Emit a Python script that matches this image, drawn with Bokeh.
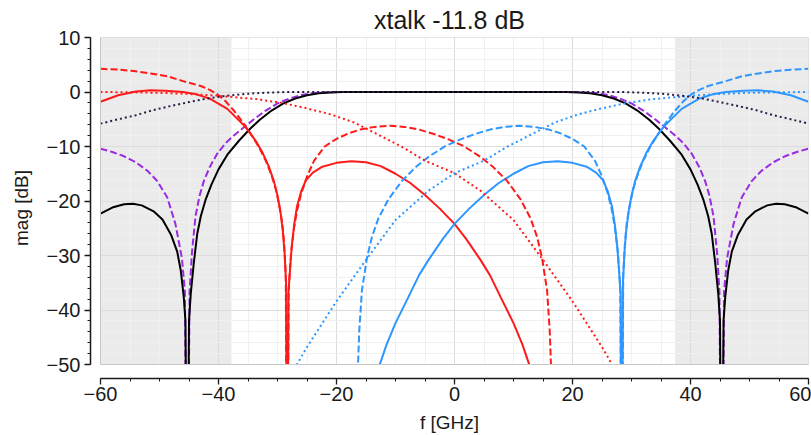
from bokeh.plotting import figure
from bokeh.models import Range1d, FixedTicker
from bokeh.embed import file_html
from bokeh.resources import INLINE

# ---------------- data ----------------
# black solid
BK_F = [-60, -58, -56, -54.5, -53, -51, -49.5, -48, -47, -46.4, -45.9, -45.6, -45.3, -45.0, -44.7,
        -44.2, -43.6, -43.0, -42.2, -41.2, -40.0, -38.5, -36.5, -34.6, -33.0, -31.0, -29.0, -27.0,
        -25.0, -23.0, -21.0, -19.0, -17.0,
        17.0, 19.0, 21.0, 23.0, 25.0, 27.0, 29.0, 31.0, 33.0, 34.6, 36.5, 38.5, 40.0, 41.2, 42.2,
        43.0, 43.6, 44.2, 44.7, 45.0, 45.3, 45.6, 45.9, 46.4, 47, 48, 49.5, 51, 53, 54.5, 56, 58, 60]
BK_DB = [-22.3, -21.2, -20.6, -20.5, -20.8, -21.9, -23.4, -26.3, -29.3, -32.7, -37.5, -42, -90, -42,
         -37, -31.5, -26, -22.8, -19.8, -17.0, -14.2, -11.5, -8.9, -6.7, -5.1, -3.4, -2.1, -1.2,
         -0.6, -0.25, -0.08, 0, 0,
         0, 0, -0.08, -0.25, -0.6, -1.2, -2.1, -3.4, -5.1, -6.7, -8.9, -11.5, -14.2, -17.0, -19.8,
         -22.8, -26, -31.5, -37, -42, -90, -42, -37.5, -32.7, -29.3, -26.3, -23.4, -21.9, -20.8,
         -20.5, -20.6, -21.2, -22.3]

# purple dashed
PU_F = [-60, -58, -56, -54, -52, -50.4, -48.7, -47.3, -46.2, -45.7, -45.3, -44.9, -44.5, -43.9,
        -43.2, -42.5, -41.5, -40.2, -38.8, -37.4, -35.5, -34, -32, -30, -28, -26, -24, -22, -20,
        20, 22, 24, 26, 28, 30, 32, 34, 35.5, 37.4, 38.8, 40.2, 41.5, 42.5, 43.2, 43.9, 44.5, 44.9,
        45.3, 45.7, 46.2, 47.3, 48.7, 50.4, 52, 54, 56, 58, 60]
PU_DB = [-10.4, -11.0, -11.8, -12.9, -14.5, -16.3, -19.3, -24.2, -30.5, -36.5, -90, -36.5, -29.5,
         -22.8, -19.0, -16.4, -13.8, -11.3, -9.4, -8.0, -6.3, -5.0, -3.4, -2.1, -1.2, -0.55, -0.2,
         -0.05, 0,
         0, -0.05, -0.2, -0.55, -1.2, -2.1, -3.4, -5.0, -6.3, -8.0, -9.4, -11.3, -13.8, -16.4,
         -19.0, -22.8, -29.5, -36.5, -90, -36.5, -30.5, -24.2, -19.3, -16.3, -14.5, -12.9, -11.8,
         -11.0, -10.4]

# dark purple dotted
DD_F = [-60, -57, -54, -51, -48, -45, -42, -39, -36, -33, -30, -28,
        28, 30, 33, 36, 39, 42, 45, 48, 51, 54, 57, 60]
DD_DB = [-5.8, -5.0, -4.25, -3.3, -2.55, -1.85, -1.2, -0.75, -0.4, -0.18, -0.05, 0,
         0, -0.05, -0.18, -0.4, -0.75, -1.2, -1.85, -2.55, -3.3, -4.25, -5.0, -5.8]

# red solid
RS_F = [-60, -57, -54, -51.5, -49, -46, -44, -41.4, -38.5, -35.7, -34.6, -33.5, -32.5, -31.5,
        -30.6, -30, -29.5, -29.1, -28.8, -28.55, -28.35, -28.15, -27.9, -27.6, -27.2, -26.7, -26.0,
        -25.2, -24.0, -22.4, -20, -17.5, -15, -12.5, -10, -7.5, -5, -2.5, 0, 2, 4.4, 6, 7.8, 10,
        11.5, 12.6, 13.6]
RS_DB = [-1.8, -0.6, 0.1, 0.3, 0.25, 0.0, -0.35, -1.25, -3.1, -6.1, -7.6, -9.3, -11.2, -13.6,
         -16.4, -19.0, -22.0, -25.5, -29.5, -35.0, -90, -37.0, -33.0, -28.5, -24.5, -21.0, -18.3,
         -16.2, -14.8, -13.7, -13.0, -12.7, -12.9, -13.6, -15.0, -16.7, -18.9, -21.4, -24.2, -27.0,
         -30.8, -33.6, -37.6, -42.4, -46.3, -49.8, -53.0]

# blue solid
BS_F = [-13.6, -12.6, -11.5, -10, -7.8, -6, -4.4, -2, 0, 2.5, 5, 7.5, 10, 12.5, 15, 17.5, 20,
        22.4, 24, 25.2, 26, 26.7, 27.2, 27.6, 27.9, 28.15, 28.35, 28.55, 28.8, 29.1, 29.5, 30,
        30.6, 31.5, 32.5, 33.5, 34.6, 35.7, 38.5, 41.4, 44, 46, 49, 51.5, 54, 57, 60]
BS_DB = [-53, -49.8, -46.3, -42.4, -37.6, -33.6, -30.8, -27, -24.2, -21.4, -18.9, -16.7, -15,
         -13.6, -12.9, -12.7, -13, -13.7, -14.8, -16.2, -18.3, -21, -24.5, -28.5, -33, -37, -90,
         -35, -29.5, -25.5, -22, -19, -16.4, -13.6, -11.2, -9.3, -7.6, -6.1, -3.1, -1.25, -0.35,
         0, 0.25, 0.3, 0.1, -0.6, -1.8]

# red dashed
RD_F = [-60, -57, -54.35, -51.5, -48.7, -46, -43, -41.5, -40.2, -38.8, -37.4, -36, -34.6, -33.2,
        -32, -31, -30.3, -29.7, -29.2, -28.9, -28.6, -28.35, -28.1, -27.7, -27.2, -26.7, -26, -25,
        -23.8, -22, -20, -18, -16, -13.5, -11, -8.5, -6, -3.5, -1, 1.5, 4.4, 6.5, 8.9, 11.2,
        12.9, 14.0, 14.85, 15.7, 16.15, 16.35, 16.5]
RD_DB = [4.25, 4.1, 3.85, 3.4, 2.9, 2.0, 1.1, 0.4, -0.4, -1.7, -3.4, -5.4, -7.6, -10.0, -12.6,
         -15.3, -17.8, -20.8, -24.0, -27.5, -33.5, -90, -36.0, -29.5, -25.0, -21.8, -18.7, -15.5,
         -12.6, -10.0, -8.6, -7.6, -6.9, -6.4, -6.2, -6.4, -6.9, -7.7, -8.7, -9.9, -11.9, -13.7,
         -16.3, -19.7, -23.2, -26.6, -30.5, -36.5, -44.0, -50.0, -90]

# blue dashed
BD_F = [-16.5, -16.35, -16.15, -15.7, -14.85, -14.0, -12.9, -11.2, -8.9, -6.5, -4.4, -1.5, 1,
        3.5, 6, 8.5, 11, 13.5, 16, 18, 20, 22, 23.8, 25, 26, 26.7, 27.2, 27.7, 28.1, 28.35, 28.6,
        28.9, 29.2, 29.7, 30.3, 31, 32, 33.2, 34.6, 36, 37.4, 38.8, 40.2, 41.5, 43, 46, 48.7,
        51.5, 54.35, 57, 60]
BD_DB = [-90, -50, -44, -36.5, -30.5, -26.6, -23.2, -19.7, -16.3, -13.7, -11.9, -9.9, -8.7, -7.7,
         -6.9, -6.4, -6.2, -6.4, -6.9, -7.6, -8.6, -10.0, -12.6, -15.5, -18.7, -21.8, -25.0,
         -29.5, -36.0, -90, -33.5, -27.5, -24.0, -20.8, -17.8, -15.3, -12.6, -10.0, -7.6, -5.4,
         -3.4, -1.7, -0.4, 0.4, 1.1, 2.0, 2.9, 3.4, 3.85, 4.1, 4.25]

# red dotted
RO_F = [-60, -55, -50, -45, -40, -37.4, -33.7, -29.5, -25, -21, -17, -13, -9, -5, 0, 4.4, 10,
        15, 20, 25, 26.5, 28]
RO_DB = [0, -0.05, -0.15, -0.35, -0.7, -0.95, -1.3, -1.95, -3.0, -4.1, -5.6, -7.8, -10.0, -12.6,
         -14.9, -18.1, -23.5, -30.8, -38.4, -46.8, -49.6, -52.5]

# blue dotted
BO_F = [-28, -26.5, -25, -20, -15, -10, -4.4, 0, 5, 9, 13, 17, 21, 25, 29.5, 33.7, 37.4, 40, 45,
        50, 55, 60]
BO_DB = [-52.5, -49.6, -46.8, -38.4, -30.8, -23.5, -18.1, -14.9, -12.6, -10.0, -7.8, -5.6, -4.1,
         -3.0, -1.95, -1.3, -0.95, -0.7, -0.35, -0.15, -0.05, 0]

# shaded out-of-band regions (GHz) and axes
SHADE_LEFT = [-60, -37.8]
SHADE_RIGHT = [37.4, 60]
X_LIM = [-60, 60]
Y_LIM = [-50, 10]
X_TICKS = [-60, -40, -20, 0, 20, 40, 60]
X_MINOR = [v for v in range(-60, 61, 5)]
Y_TICKS = [-50, -40, -30, -20, -10, 0, 10]
Y_MINOR = [v for v in range(-50, 11, 2)]
TITLE = "xtalk -11.8 dB"

# ---------------- layout constants ----------------
W, H = 811, 435
LEFT, RIGHT, TOP, BOTTOM = 90, 3, 37, 57
PX_PER_GHZ = 5.9
PX_PER_DB = 5.45
x_start = X_LIM[0] - 10 / PX_PER_GHZ
y_start = Y_LIM[0] - 14 / PX_PER_DB

FONT = "Liberation Sans"
INK = "#1a1a1a"

p = figure(width=W, height=H, output_backend="svg", toolbar_location=None,
           x_range=Range1d(x_start, X_LIM[1]), y_range=Range1d(y_start, Y_LIM[1]),
           min_border_left=LEFT, min_border_right=RIGHT, min_border_top=TOP,
           min_border_bottom=BOTTOM)
p.outline_line_color = None
p.background_fill_color = "white"
p.border_fill_color = "white"

# shaded regions (below the grid)
p.quad(left=[SHADE_LEFT[0], SHADE_RIGHT[0]], right=[SHADE_LEFT[1], SHADE_RIGHT[1]],
       bottom=Y_LIM[0], top=Y_LIM[1], fill_color="#ebebeb", line_color=None, level="image")

# axes
p.xaxis.ticker = FixedTicker(ticks=X_TICKS, minor_ticks=X_MINOR)
p.yaxis.ticker = FixedTicker(ticks=Y_TICKS, minor_ticks=Y_MINOR)
p.xaxis.bounds = tuple(X_LIM)
p.yaxis.bounds = tuple(Y_LIM)
p.xaxis.major_label_overrides = {v: str(v).replace("-", "\u2212") for v in X_TICKS}
p.yaxis.major_label_overrides = {v: str(v).replace("-", "\u2212") for v in Y_TICKS}
for ax in (p.xaxis[0], p.yaxis[0]):
    ax.axis_line_color = INK
    ax.axis_line_width = 1.5
    ax.major_tick_line_color = INK
    ax.minor_tick_line_color = INK
    ax.major_tick_line_width = 1.3
    ax.minor_tick_line_width = 1
    ax.major_tick_out = 6
    ax.major_tick_in = 0
    ax.minor_tick_out = 3
    ax.minor_tick_in = 0
    ax.major_label_text_font = FONT
    ax.major_label_text_font_size = "20px"
    ax.major_label_text_color = INK
    ax.axis_label_text_font = FONT
    ax.axis_label_text_font_size = "19px"
    ax.axis_label_text_font_style = "normal"
    ax.axis_label_text_color = INK
p.xaxis.axis_label = "f [GHz]"
p.yaxis.axis_label = "mag [dB]"
p.xaxis.major_label_standoff = 2
p.xaxis.axis_label_standoff = 8
p.yaxis.major_label_standoff = 4
p.yaxis.axis_label_standoff = 12

# grid
p.xgrid.ticker = FixedTicker(ticks=X_TICKS, minor_ticks=X_MINOR)
p.ygrid.ticker = FixedTicker(ticks=Y_TICKS, minor_ticks=Y_MINOR)
for g in (p.xgrid[0], p.ygrid[0]):
    g.grid_line_color = "#dcdcdc"
    g.grid_line_width = 1
    g.minor_grid_line_color = "#f0f0f0"
    g.minor_grid_line_width = 1

# curves
LW = 2
DASH = "7 3"
DOT = "2 3"
p.line(PU_F, PU_DB, color="#9a2be0", line_width=LW, line_dash=DASH)
p.line(BK_F, BK_DB, color="black", line_width=LW)
p.line(RS_F, RS_DB, color="#ff1a1a", line_width=LW)
p.line(BS_F, BS_DB, color="#2e96ff", line_width=LW)
p.line(RD_F, RD_DB, color="#ff1a1a", line_width=LW, line_dash=DASH)
p.line(BD_F, BD_DB, color="#2e96ff", line_width=LW, line_dash=DASH)
p.line(RO_F, RO_DB, color="#ff1a1a", line_width=LW, line_dash=DOT)
p.line(BO_F, BO_DB, color="#2e96ff", line_width=LW, line_dash=DOT)
p.line(DD_F, DD_DB, color="#2e1a47", line_width=LW, line_dash=DOT)

# white covers for the gap between frame and offset axes
p.quad(left=[x_start, x_start], right=[X_LIM[1], X_LIM[0]], bottom=[y_start, y_start],
       top=[Y_LIM[0], Y_LIM[1]], fill_color="white", line_color=None)
# plot-area border
p.quad(left=X_LIM[0], right=X_LIM[1], bottom=Y_LIM[0], top=Y_LIM[1], fill_color=None,
       line_color="#c8c8c8", line_width=1)

p.title.text = TITLE
p.title.align = "center"
p.title.text_font = FONT
p.title.text_font_size = "25px"
p.title.text_font_style = "normal"
p.title.text_color = INK
p.title.offset = 6
p.title.standoff = 7

open("out.html", "w").write(file_html(p, INLINE))
